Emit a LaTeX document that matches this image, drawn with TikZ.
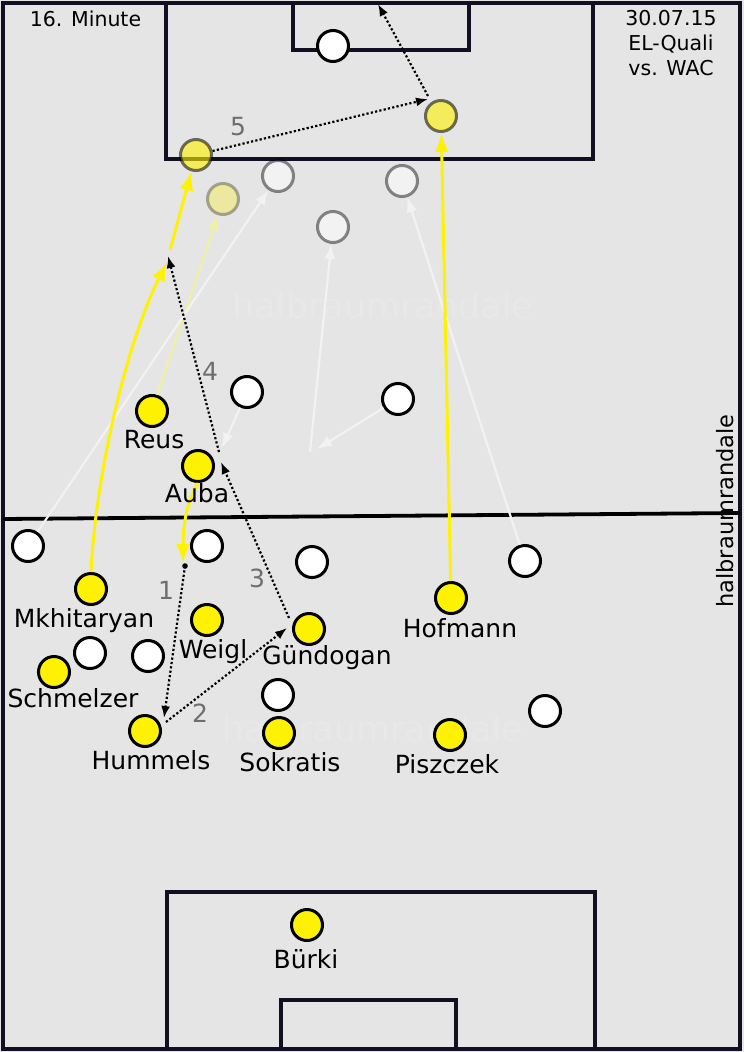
\documentclass[tikz,border=0pt]{standalone}
\usepackage{fontspec}
\setmainfont{DejaVu Sans}
\usepackage{xcolor}
\usetikzlibrary{arrows.meta}

\definecolor{rasen}{RGB}{229,229,229}
\definecolor{linie}{RGB}{16,16,34}
\definecolor{zahl}{RGB}{110,110,110}
\definecolor{geist}{RGB}{242,242,242}
\definecolor{geistgelb}{RGB}{240,240,160}
\definecolor{wasser}{RGB}{232,232,232}

\tikzset{
	heim/.style={circle, draw=black, fill=yellow, line width=3pt, minimum size=31pt, inner sep=0pt},
	gast/.style={heim, fill=white},
	altheim/.style={heim, draw opacity=0.55, fill opacity=0.6},
	altheimb/.style={heim, draw opacity=0.3, fill opacity=0.3},
	altgast/.style={heim, fill=white, draw opacity=0.45, fill opacity=0.5},
	lbl/.style={anchor=base, font=\fontsize{25}{30}\selectfont},
	nummer/.style={text=zahl, font=\fontsize{25}{30}\selectfont},
	kopf/.style={anchor=base, font=\fontsize{20.5}{25}\selectfont},
	lauf/.style={yellow, line width=3pt, -{Latex[length=19pt,width=14pt]}},
	geistlauf/.style={geist, line width=2.2pt, -{Latex[length=15pt,width=11pt]}},
	pass/.style={line width=2.2pt, dash pattern=on 2.2pt off 2.2pt, -{Latex[length=12pt,width=9pt]}}
}

\begin{document}
\begin{tikzpicture}[x=1pt, y=-1pt]
	\useasboundingbox (0,0) rectangle (744,1052);
	
	% 球场
	\fill[rasen] (0,0) rectangle (744,1052);
	\node[wasser, font=\fontsize{35}{40}\selectfont] (wz1) at (383,305) {halbraumrandale};
	\node[wasser, font=\fontsize{35}{40}\selectfont] (wz2) at (373,728) {halbraumrandale};
	\draw[linie, line width=4pt] (3,3) rectangle (740,1049);
	\draw[linie, line width=4pt] (166,3) -- (166,159) -- (593,159) -- (593,3);
	\draw[linie, line width=4pt] (293,3) -- (293,50) -- (469,50) -- (469,3);
	\draw[linie, line width=4pt] (167,1049) -- (167,892) -- (595,892) -- (595,1049);
	\draw[linie, line width=4pt] (281,1049) -- (281,1000) -- (456,1000) -- (456,1049);
	\draw[black, line width=3.8pt] (3,519) -- (740,513);
	
	% 文字
	\node[kopf] (minute) at (85.5,26) {16. Minute};
	\node[kopf] (datum) at (671,25) {30.07.15};
	\node[kopf] (wettb) at (671,50) {EL-Quali};
	\node[kopf] (gegner) at (671,75) {vs. WAC};
	\node[anchor=base, rotate=90, font=\fontsize{22.5}{27}\selectfont] (marke) at (733,511) {halbraumrandale};
	
	% 球员
	\foreach \p/\x/\y in {reus/152/411,auba/198/466,mkhitaryan/91/589,weigl/207/620,guendogan/309/629,hofmann/451/598,schmelzer/54/672,hummels/145/731,sokratis/279/733,piszczek/450/735,buerki/307/925}
	\node[heim] (\p) at (\x,\y) {};
	\foreach \p/\x/\y in {w1/333/46,w2/247/392,w3/398/399,w4/28/546,w5/207/546,w6/312/562,w7/525/561,w8/90/653,w9/148/656,w10/278/695,w11/545/711}
	\node[gast] (\p) at (\x,\y) {};
	
	% 之前的位置
	\node[altheim] (altreus) at (196,155) {};
	\node[altheimb] (altreus2) at (223,199) {};
	\node[altheim] (althof) at (441,116) {};
	\foreach \p/\x/\y in {g1/278/176,g2/402/181,g3/333/227}
	\node[altgast] (\p) at (\x,\y) {};
	
	% 跑位
	\coordinate (s1) at (222,448);
	\coordinate (s2) at (317,449);
	\coordinate (s3) at (310,452);
	\draw[geistlauf, geistgelb] (reus) -- (altreus2);
	\draw[geistlauf] (w4) -- (g1);
	\draw[geistlauf] (w2) -- (s1);
	\draw[geistlauf] (w3) -- (s2);
	\draw[geistlauf] (s3) -- (g3);
	\draw[geistlauf] (w7) -- (g2);
	
	\coordinate (m1) at (167,262);
	\coordinate (m2) at (170,250);
	\coordinate (a1) at (183,563);
	\draw[lauf] (mkhitaryan.north) .. controls (96,470) and (128,340) .. (m1);
	\draw[lauf] (m2) -- (altreus);
	\draw[lauf] (auba.south) .. controls (185,505) and (183,530) .. (a1);
	\draw[lauf] (hofmann) -- (althof);
	
	% 传球
	\coordinate (b1) at (185,566);
	\coordinate (b2) at (164,718);
	\coordinate (b2a) at (166,722);
	\coordinate (b3) at (287,628);
	\coordinate (b3a) at (289,618);
	\coordinate (b4) at (221,462);
	\coordinate (b4a) at (219,452);
	\coordinate (b5) at (168,256);
	\coordinate (b6) at (428,99);
	\coordinate (b6a) at (428,96);
	\coordinate (b7) at (378,4);
	\fill (b1) circle (2.8);
	\draw[pass] (b1) -- (b2);
	\draw[pass] (b2a) -- (b3);
	\draw[pass] (b3a) -- (b4);
	\draw[pass] (b4a) -- (b5);
	\draw[pass] (altreus) -- (b6);
	\draw[pass] (b6a) -- (b7);
	\foreach \n/\x/\y in {1/166/590,2/200/713,3/257/578,4/210/371,5/238/127}
	\node[nummer] (n\n) at (\x,\y) {\n};
	
	% 名字
	\foreach \p/\x/\y/\txt in {reus/154/448/Reus,auba/197/502/Auba,mkhitaryan/84/627/Mkhitaryan,weigl/213/658/Weigl,guendogan/327/664/Gündogan,hofmann/460/637/Hofmann,schmelzer/73/707/Schmelzer,hummels/151/769/Hummels,sokratis/290/771/Sokratis,piszczek/447/773/Piszczek,buerki/306/968/Bürki}
	\node[lbl] (l\p) at (\x,\y) {\txt};
\end{tikzpicture}
\end{document}
